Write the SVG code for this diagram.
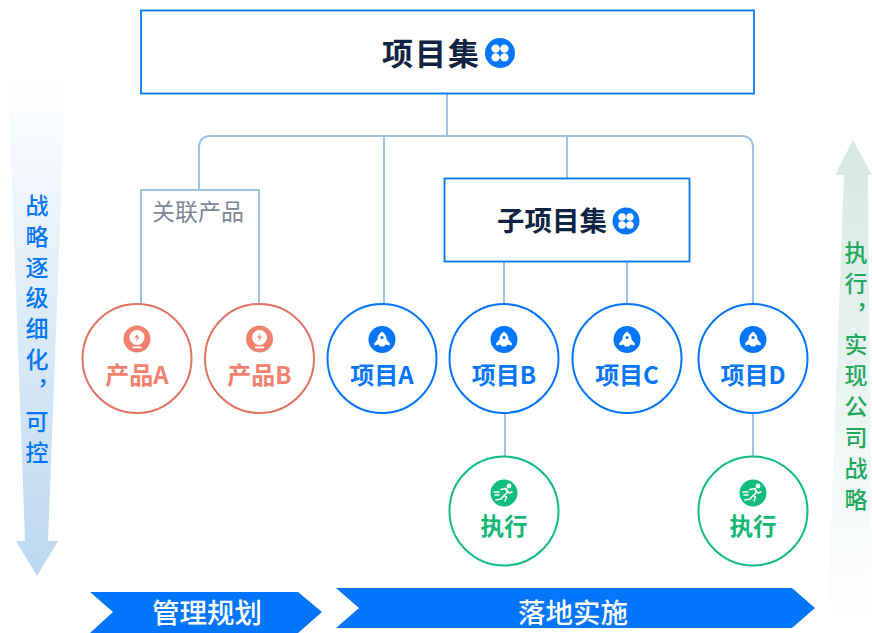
<svg xmlns="http://www.w3.org/2000/svg" xmlns:xlink="http://www.w3.org/1999/xlink" width="872" height="633" viewBox="0 0 872 633">
<style>
text{font-family:"Noto Sans CJK SC","Noto Sans",sans-serif;text-anchor:middle}
.b{font-weight:700}
.conn{fill:none;stroke:#9cc3e8;stroke-width:2}
.box{fill:#fff;stroke:#0476fb;stroke-width:1.800}
.blue{fill:#fff;stroke:#0476fb;stroke-width:2}
.red{fill:#fff;stroke:#e27361;stroke-width:2}
.green{fill:#fff;stroke:#12bd7e;stroke-width:2}
.lb{font-size:24px;font-weight:700;fill:#0476fb}
.lr{font-size:24px;font-weight:700;fill:#f28270}
.lg{font-size:23.500px;font-weight:700;fill:#12b876}
.side{font-size:23px;font-weight:500;writing-mode:vertical-rl;text-anchor:start;letter-spacing:7.900px}
</style>
<defs>
<linearGradient id="gl" x1="0" y1="0" x2="0" y2="1"><stop offset="0" stop-color="#fff"/><stop offset="1" stop-color="#bbd7f0"/></linearGradient>
<linearGradient id="gr" x1="0" y1="1" x2="0" y2="0"><stop offset="0" stop-color="#fff"/><stop offset="1" stop-color="#d6e9e2"/></linearGradient>
<g id="clover"><circle r="15" fill="#0476fb"/><circle cx="-4.400" cy="-4.400" r="4.200" fill="#fff"/><circle cx="4.400" cy="-4.400" r="4.200" fill="#fff"/><circle cx="-4.400" cy="4.400" r="4.200" fill="#fff"/><circle cx="4.400" cy="4.400" r="4.200" fill="#fff"/></g>
<g id="rocket"><circle r="13.500" fill="#0476fb"/><path d="M0-8C3.500-5.500 4.500-3 4.500 0L8 4 7.500 6 3.500 5 2 7H-2L-3.500 5-7.500 6-8 4-4.500 0C-4.500-3-3.500-5.500 0-8Z" fill="#fff"/><circle cy="-2" r="1.600" fill="#0476fb"/></g>
<g id="bulb"><circle r="13.500" fill="#f28270"/><circle cy="-1.500" r="7.500" fill="#fff"/><rect x="-4.500" y="7.500" width="9" height="1.800" fill="#fff"/><path d="M1-6-2.500-1H0L-1 3 2.500-2.500H0Z" fill="#f28270"/></g>
<g id="runner"><circle r="13.500" fill="#12bd7e"/><g fill="none" stroke="#fff" stroke-width="1.500" stroke-linecap="round" stroke-linejoin="round"><path d="M-3-3.500 2-4.500 3 0 0 2.500 2.500 4 1 8"/><path d="M0 2.500-3 6-8 7"/><path d="M2-4.500 5 0 8-1"/><path d="M-10-1H-5M-9 2H-5"/></g><circle cx="5" cy="-7" r="2.400" fill="#fff"/></g>
</defs>

<g id="side-arrows">
<path d="M8 70H66L48 541H58L37 576 16 541H25Z" fill="url(#gl)"/>
<path d="M853 140 872 175H868L872 633H827L844 175H835Z" fill="url(#gr)"/>
<text class="side" x="37" y="193.500" fill="#0476fb">战略逐级细化，可控</text>
<text class="side" x="856" y="240.500" fill="#1fa95f">执行，实现公司战略</text>
</g>

<g id="connectors" class="conn">
<path d="M447 93V136"/>
<path d="M199 190V148Q199 136 211 136H741Q753 136 753 148V305"/>
<path d="M384 136V305"/>
<path d="M567 136V179"/>
<path d="M141 305V190H259V305"/>
<path d="M504 261V305"/>
<path d="M627 261V305"/>
<path d="M505 412V457"/>
<path d="M753 412V457"/>
</g>

<g id="root"><rect class="box" x="141" y="10.500" width="613" height="83"/><text class="b" x="431.500" y="65" font-size="31" fill="#0f2343" letter-spacing="2">项目集</text><use href="#clover" x="500" y="53"/></g>
<g id="related-label"><text x="198" y="220" font-size="23" fill="#7d8797">关联产品</text></g>
<g id="subset"><rect class="box" x="444.500" y="178.500" width="245" height="83"/><text class="b" x="552" y="231" font-size="27.500" fill="#0f2343">子项目集</text><use href="#clover" transform="translate(626 221) scale(.9)"/></g>

<g id="product-a"><circle class="red" cx="137" cy="358.500" r="54.500"/><use href="#bulb" x="137" y="339"/><text class="lr" x="137" y="384">产品A</text></g>
<g id="product-b"><circle class="red" cx="259.500" cy="358.500" r="54.500"/><use href="#bulb" x="259.500" y="339"/><text class="lr" x="259.500" y="384">产品B</text></g>
<g id="project-a"><circle class="blue" cx="382" cy="358.500" r="54.500"/><use href="#rocket" x="382" y="339.500"/><text class="lb" x="382" y="384">项目A</text></g>
<g id="project-b"><circle class="blue" cx="504" cy="358.500" r="54.500"/><use href="#rocket" x="504" y="339.500"/><text class="lb" x="504" y="384">项目B</text></g>
<g id="project-c"><circle class="blue" cx="627" cy="358.500" r="54.500"/><use href="#rocket" x="627" y="339.500"/><text class="lb" x="627" y="384">项目C</text></g>
<g id="project-d"><circle class="blue" cx="753" cy="358.500" r="54.500"/><use href="#rocket" x="753" y="339.500"/><text class="lb" x="753" y="384">项目D</text></g>
<g id="exec-b"><circle class="green" cx="504" cy="511" r="54.500"/><use href="#runner" x="504" y="493"/><text class="lg" x="504" y="535">执行</text></g>
<g id="exec-d"><circle class="green" cx="753" cy="511" r="54.500"/><use href="#runner" x="753" y="493"/><text class="lg" x="753" y="535">执行</text></g>

<g id="planning"><path d="M90 592H298L322 612 298 633H90L113 612Z" fill="#0476fb"/><text x="207" y="623" font-size="27.500" font-weight="500" fill="#fff">管理规划</text></g>
<g id="landing"><path d="M336 588H792L815 608 792 628H336L359 608Z" fill="#0476fb"/><text x="573" y="623" font-size="27.500" font-weight="500" fill="#fff">落地实施</text></g>
</svg>
